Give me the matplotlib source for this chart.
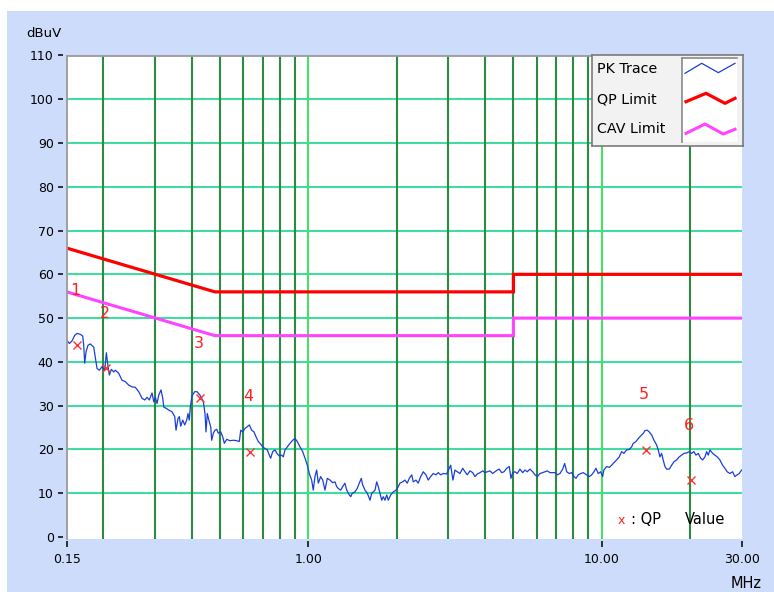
import matplotlib
matplotlib.use('Agg')
import matplotlib.pyplot as plt
from matplotlib.patches import Rectangle
from matplotlib.ticker import NullLocator, FixedLocator, FixedFormatter

plt.rcParams['font.family'] = ['DejaVu Sans']

# ---------------- data ----------------
pk_freq = [
    0.150, 0.1532, 0.1564, 0.1598, 0.1627, 0.1669, 0.1701, 0.1714, 0.1728, 0.1746,
    0.1773, 0.1805, 0.1854, 0.1869, 0.1903, 0.1938, 0.1979, 0.2022, 0.2048, 0.2075,
    0.2097, 0.2130, 0.2170, 0.2197, 0.2256, 0.2316, 0.2376, 0.2440, 0.2505, 0.2570,
    0.2640, 0.2709, 0.2767, 0.2818, 0.2869, 0.2931, 0.2970, 0.3008, 0.3048, 0.3089,
    0.3145, 0.3188, 0.3213, 0.3272, 0.3342, 0.3429, 0.3503, 0.3538, 0.3594, 0.3631,
    0.3671, 0.3729, 0.3788, 0.3847, 0.3886, 0.3926, 0.3957, 0.4010, 0.4096, 0.4171,
    0.4270, 0.4328, 0.4383, 0.4442, 0.4477, 0.4522, 0.4594, 0.4645, 0.4682, 0.4741,
    0.4805, 0.4869, 0.4931, 0.5025, 0.5104, 0.5169, 0.5267, 0.5405, 0.5546, 0.5696,
    0.5814, 0.5879, 0.5972, 0.6080, 0.6190, 0.6289, 0.6408, 0.6525, 0.6628, 0.6749,
    0.6839, 0.6986, 0.7113, 0.7243, 0.7357, 0.7439, 0.7556, 0.7694, 0.7834, 0.7958,
    0.8110, 0.8213, 0.8322, 0.8474, 0.8656, 0.8841, 0.9001, 0.9166, 0.9363, 0.9563,
    0.9737, 0.9915, 1.007, 1.026, 1.039, 1.053, 1.067, 1.081, 1.101, 1.119,
    1.139, 1.160, 1.185, 1.210, 1.232, 1.249, 1.264, 1.288, 1.309, 1.332,
    1.351, 1.379, 1.394, 1.411, 1.441, 1.467, 1.491, 1.515, 1.531, 1.559,
    1.588, 1.622, 1.644, 1.664, 1.687, 1.709, 1.731, 1.754, 1.778, 1.800,
    1.824, 1.849, 1.872, 1.908, 1.947, 1.989, 2.025, 2.052, 2.096, 2.134,
    2.173, 2.208, 2.250, 2.278, 2.327, 2.369, 2.414, 2.464, 2.516, 2.562,
    2.611, 2.665, 2.722, 2.772, 2.825, 2.883, 2.961, 3.022, 3.055, 3.110,
    3.160, 3.218, 3.287, 3.357, 3.418, 3.480, 3.555, 3.631, 3.697, 3.765,
    3.846, 3.928, 3.999, 4.072, 4.159, 4.248, 4.325, 4.404, 4.474, 4.559,
    4.643, 4.742, 4.839, 4.904, 4.970, 5.061, 5.153, 5.264, 5.376, 5.474,
    5.574, 5.693, 5.815, 5.921, 6.029, 6.158, 6.290, 6.404, 6.521, 6.660,
    6.803, 6.926, 7.052, 7.203, 7.357, 7.475, 7.594, 7.750, 7.898, 8.042,
    8.169, 8.318, 8.476, 8.651, 8.885, 9.068, 9.240, 9.408, 9.556, 9.730,
    9.915, 10.07, 10.17, 10.39, 10.61, 10.81, 11.01, 11.24, 11.47, 11.69,
    11.90, 12.16, 12.41, 12.65, 12.81, 13.08, 13.32, 13.58, 13.86, 14.04,
    14.30, 14.52, 14.80, 15.07, 15.39, 15.58, 15.79, 16.00, 16.20, 16.42,
    16.64, 16.99, 17.31, 17.63, 18.00, 18.37, 18.72, 19.06, 19.47, 19.87,
    20.25, 20.62, 20.95, 21.33, 21.74, 22.08, 22.48, 22.78, 23.07, 23.38,
    23.88, 24.32, 24.76, 25.28, 25.82, 26.29, 26.77, 27.35, 27.93, 28.44,
    28.96, 29.42, 29.98,
]
pk_level = [
    45.0, 44.2, 44.8, 46.1, 46.5, 46.3, 45.9, 43.8, 39.7, 42.3,
    43.8, 44.1, 43.4, 41.9, 38.5, 38.1, 38.9, 38.1, 42.1, 38.9,
    37.0, 38.3, 37.7, 38.1, 37.4, 35.8, 35.5, 34.7, 34.3, 34.2,
    33.2, 31.7, 31.3, 31.9, 31.3, 32.9, 30.9, 31.9, 30.5, 32.4,
    33.6, 31.7, 29.7, 29.4, 29.0, 28.6, 27.5, 24.4, 27.1, 27.5,
    25.3, 26.7, 25.6, 26.7, 28.2, 26.7, 29.6, 32.2, 33.2, 33.2,
    32.4, 31.7, 30.9, 28.2, 24.0, 28.2, 26.3, 25.2, 22.1, 23.7,
    24.4, 24.6, 23.7, 24.0, 22.9, 21.4, 22.3, 22.0, 22.1, 22.0,
    21.8, 24.4, 24.0, 24.8, 25.2, 25.6, 24.4, 24.0, 22.9, 21.8,
    21.4, 20.6, 20.2, 19.9, 18.7, 18.0, 19.5, 19.9, 19.0, 18.5,
    18.7, 18.3, 19.9, 20.6, 21.4, 22.1, 22.5, 21.8, 20.6, 19.5,
    18.0, 16.4, 14.5, 13.0, 10.7, 13.8, 15.3, 12.3, 13.8, 13.0,
    10.7, 13.4, 13.0, 12.4, 12.6, 11.5, 11.1, 10.7, 11.5, 12.3,
    10.7, 9.6, 9.2, 10.0, 10.3, 11.1, 12.3, 13.4, 11.9, 10.7,
    10.0, 8.4, 10.0, 10.3, 10.7, 12.6, 11.5, 10.0, 8.4, 9.2,
    8.4, 9.6, 8.4, 9.6, 10.3, 10.7, 11.5, 12.3, 12.6, 13.0,
    12.3, 13.4, 14.2, 12.6, 13.0, 12.3, 13.8, 14.9, 14.2, 13.0,
    13.8, 14.5, 14.2, 14.7, 14.2, 14.5, 14.4, 15.7, 16.4, 13.0,
    15.3, 14.9, 14.5, 15.7, 14.9, 14.2, 15.1, 14.7, 13.8, 14.4,
    14.7, 15.1, 14.7, 14.9, 15.1, 14.5, 14.9, 15.3, 15.5, 14.7,
    14.9, 15.7, 16.1, 13.4, 14.7, 14.9, 14.5, 15.5, 14.7, 15.3,
    14.9, 15.5, 14.9, 14.2, 13.8, 14.5, 14.7, 14.9, 15.1, 14.7,
    14.7, 14.7, 14.2, 14.5, 15.5, 16.8, 14.9, 14.5, 14.7, 13.8,
    13.4, 14.2, 14.5, 14.7, 14.2, 13.8, 14.2, 14.9, 15.7, 14.5,
    14.9, 13.8, 15.3, 16.1, 15.9, 16.4, 17.0, 17.6, 18.3, 19.5,
    19.1, 19.9, 20.0, 20.6, 21.4, 21.8, 22.5, 23.1, 23.7, 24.3,
    24.4, 24.0, 23.3, 22.1, 21.0, 19.9, 18.3, 19.1, 17.6, 16.1,
    15.5, 15.5, 16.4, 17.2, 17.6, 18.3, 18.7, 19.1, 19.2, 19.5,
    19.1, 19.5, 18.7, 19.1, 18.0, 17.6, 18.3, 19.5, 18.7, 19.9,
    19.1, 18.7, 18.3, 17.6, 16.4, 15.7, 14.9, 14.5, 14.9, 13.8,
    14.2, 14.5, 15.3,
]

limit_freq = [0.15, 0.48, 5.0, 5.0, 30.0]
qp_limit = [66, 56, 56, 60, 60]
cav_limit = [56, 46, 46, 50, 50]

qp_freq = [0.162, 0.204, 0.427, 0.632, 14.11, 20.09]
qp_value = [43.8, 38.6, 31.7, 19.5, 19.9, 13.0]
qp_labels = ['1', '2', '3', '4', '5', '6']

y_ticks = [0, 10, 20, 30, 40, 50, 60, 70, 80, 90, 100, 110]
x_ticks = [0.15, 1.0, 10.0, 30.0]
x_tick_labels = ['0.15', '1.00', '10.00', '30.00']
h_grid = [10, 20, 30, 40, 50, 60, 70, 80, 90, 100]
v_grid_minor = [0.2, 0.3, 0.4, 0.5, 0.6, 0.7, 0.8, 0.9,
                2, 3, 4, 5, 6, 7, 8, 9, 20]
v_grid_major = [1, 10]

legend_names = ['PK Trace', 'QP Limit', 'CAV Limit']

# ---------------- figure ----------------
W, H = 774, 592
fig = plt.figure(figsize=(W / 100, H / 100), dpi=100, facecolor='white')
fig.patches.append(Rectangle((7 / W, 0), 1 - 7 / W, 1 - 11 / H,
                             transform=fig.transFigure, facecolor='#cddcfa',
                             edgecolor='none', zorder=-10))

ax = fig.add_axes([66.7 / W, 1 - 539 / H, 675 / W, (539 - 55.5) / H])
ax.set_facecolor('white')
ax.set_xscale('log')
ax.set_xlim(0.15, 30)
ax.set_ylim(-0.46, 110)

for s in ax.spines.values():
    s.set_visible(False)
ax.spines['left'].set_position(('outward', 2.9))
ax.spines['bottom'].set_position(('outward', 1.5))

# frame lines (left and top)
ax.plot([0, 0], [0, 1], transform=ax.transAxes, color='#9a9a9a', lw=1.3,
        clip_on=False, zorder=6)
ax.plot([0, 1], [1, 1], transform=ax.transAxes, color='#9a9a9a', lw=1.3,
        clip_on=False, zorder=6)

ax.yaxis.set_major_locator(FixedLocator(y_ticks))
ax.yaxis.set_major_formatter(FixedFormatter([str(v) for v in y_ticks]))
ax.xaxis.set_major_locator(FixedLocator(x_ticks))
ax.xaxis.set_major_formatter(FixedFormatter(x_tick_labels))
ax.xaxis.set_minor_locator(NullLocator())
ax.yaxis.set_minor_locator(NullLocator())
ax.tick_params(axis='y', direction='out', length=3.3, width=1.1, pad=3.2,
               labelsize=9, colors='black')
ax.tick_params(axis='x', direction='out', length=4, width=1.1, pad=4.5,
               labelsize=9, colors='black')

# grid
for h in h_grid:
    ax.axhline(h, color='#40dca0', lw=1.5, zorder=1)
for v in v_grid_minor:
    ax.axvline(v, color='#2e8a42', lw=1.5, zorder=1)
for v in v_grid_major:
    ax.axvline(v, color='#48e064', lw=1.5, zorder=1)

# data
ax.plot(pk_freq, pk_level, color='#1a3fd6', lw=0.9, zorder=3)
ax.plot(limit_freq, qp_limit, color='#ff0000', lw=2.3, zorder=4,
        solid_joinstyle='miter')
ax.plot(limit_freq, cav_limit, color='#ff44ff', lw=2.2, zorder=4,
        solid_joinstyle='miter')
ax.plot(qp_freq, qp_value, linestyle='none', marker='x', color='#ff3333',
        ms=5.5, mew=1.0, zorder=5)
for f, v, lbl in zip(qp_freq, qp_value, qp_labels):
    ax.annotate(lbl, (f, v), xytext=(-1, 39.6), textcoords='offset points',
                ha='center', va='center', color='#ff2020', fontsize=11.5,
                zorder=6)

# texts
fig.text(43.5 / W, 1 - 33.5 / H, 'dBuV', ha='center', va='center', fontsize=9.5)
fig.text(746 / W, 1 - 584 / H, 'MHz', ha='center', va='center', fontsize=10.5)
fig.text(621.5 / W, 1 - 520 / H, 'x', ha='center', va='center', fontsize=9,
         color='#ff2020')
fig.text(631 / W, 1 - 520 / H, ': QP', ha='left', va='center', fontsize=10.5)
fig.text(685 / W, 1 - 520 / H, 'Value', ha='left', va='center', fontsize=10.5)

# legend box
lg = fig.add_axes([591.7 / W, 1 - 146 / H, 151 / W, 91 / H])
lg.set_xlim(0, 1)
lg.set_ylim(0, 1)
lg.set_facecolor('#f2f2f2')
lg.set_xticks([])
lg.set_yticks([])
for s in lg.spines.values():
    s.set_color('#7a7a7a')
    s.set_linewidth(1.2)
for name, yy in zip(legend_names, [0.843, 0.513, 0.184]):
    lg.text(0.033, yy, name, ha='left', va='center', fontsize=10.3)

sb = fig.add_axes([681.7 / W, 1 - 141.7 / H, 55 / W, 83.4 / H])
sb.set_xlim(0, 1)
sb.set_ylim(0, 1)
sb.set_facecolor('white')
sb.set_xticks([])
sb.set_yticks([])
for k, s in sb.spines.items():
    s.set_visible(k in ('left', 'top'))
    s.set_color('#8a8a8a')
    s.set_linewidth(1.2)
sb.plot([0.06, 0.364, 0.666, 0.969], [0.82, 0.94, 0.828, 0.94],
        color='#1a3fd6', lw=0.9)
sb.plot([0.078, 0.442, 0.787, 0.969], [0.48, 0.58, 0.46, 0.52],
        color='#ff0000', lw=2.3)
sb.plot([0.078, 0.424, 0.756, 0.969], [0.10, 0.212, 0.092, 0.149],
        color='#ff44ff', lw=2.2)

fig.savefig('out.png', dpi=100, facecolor=fig.get_facecolor())
